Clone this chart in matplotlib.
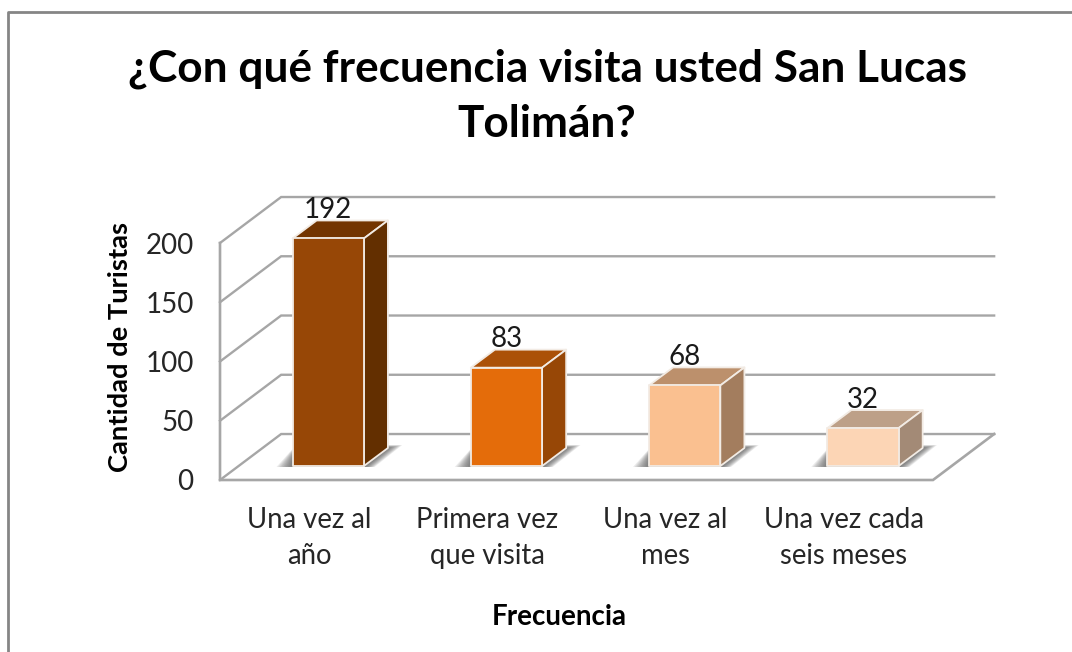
import numpy as np
import matplotlib.pyplot as plt
from matplotlib.lines import Line2D
from matplotlib.patches import Polygon

plt.rcParams['font.family'] = ['Lato', 'DejaVu Sans']

categories = ['Una vez al\naño', 'Primera vez\nque visita', 'Una vez al\nmes', 'Una vez cada\nseis meses']
values = [192, 83, 68, 32]
front_colors = ['#974706', '#e46c0a', '#fac090', '#fcd5b5']
top_colors = ['#733500', '#ab5108', '#bc906c', '#bda088']
side_colors = ['#632f00', '#974706', '#a37d5e', '#a38a76']
yticks = [0, 50, 100, 150, 200]

W, H = 1072, 652
grid_col = '#a6a6a6'

# depth of the box and of the bars, in data units
wall_dx, wall_dy = 0.343, 38.8
bar_w = 0.40
bar_dx, bar_dy = 0.135, 15.2
shift_x, shift_y = 0.107, 11.8

fig = plt.figure(figsize=(W / 100, H / 100), dpi=100)
ax = fig.add_axes([220 / W, 1 - 480 / H, 713 / W, 237 / H])
ax.set_xlim(-0.5, 3.5)
ax.set_ylim(0, 200)
for s in ax.spines.values():
    s.set_visible(False)
ax.patch.set_alpha(0)

# chart frame
fig.add_artist(Line2D([8 / W, 8 / W, 1], [0, 1 - 12 / H, 1 - 12 / H], color='#858585', lw=2))

# walls
x0, x1 = -0.5, 3.5
for v in yticks:
    ax.plot([x0, x0 + wall_dx, x1 + wall_dx], [v, v + wall_dy, v + wall_dy],
            color=grid_col, lw=1.7, clip_on=False, zorder=1, solid_joinstyle='miter')
ax.plot([x0, x0, x1, x1 + wall_dx], [200, 0, 0, wall_dy],
        color=grid_col, lw=1.9, clip_on=False, zorder=1, solid_joinstyle='miter')

for i, v in enumerate(values):
    left = i - bar_w / 2 + shift_x
    right = left + bar_w
    base = shift_y

    # soft shadow on the floor
    for grow in np.linspace(1, 0.2, 9):
        pts = [(left - 0.09 * grow, base - 0.8),
               (right + 0.06 * grow, base - 0.8),
               (right + bar_dx + 0.08 * grow, base + bar_dy + 2.5 * grow),
               (left + 0.02, base + bar_dy + 2.5 * grow)]
        ax.add_patch(Polygon(pts, closed=True, fc='#404040', ec='none', alpha=0.1,
                             clip_on=False, zorder=2))

    edge = dict(ec='#f2ebe4', lw=1.3, clip_on=False, zorder=3, joinstyle='round')
    ax.add_patch(Polygon([(left, base + v), (right, base + v),
                          (right + bar_dx, base + v + bar_dy), (left + bar_dx, base + v + bar_dy)],
                         closed=True, fc=top_colors[i], **edge))
    ax.add_patch(Polygon([(right, base), (right + bar_dx, base + bar_dy),
                          (right + bar_dx, base + v + bar_dy), (right, base + v)],
                         closed=True, fc=side_colors[i], **edge))
    ax.add_patch(Polygon([(left, base), (right, base), (right, base + v), (left, base + v)],
                         closed=True, fc=front_colors[i], **edge))
    ax.text(left + bar_w / 2, base + v + 24, str(v), ha='center', va='center',
            fontsize=20, color='#1a1a1a', zorder=4)

ax.set_xticks(range(len(categories)))
ax.set_xticklabels(categories, fontsize=19.8, color='#262626', linespacing=1.47)
ax.set_yticks(yticks)
ax.tick_params(axis='x', length=0, pad=19.5)
ax.tick_params(axis='y', length=0, pad=19, labelsize=20, labelcolor='#262626')

fig.text(547 / W, 1 - 96.5 / H, '¿Con qué frecuencia visita usted San Lucas\nTolimán?',
         ha='center', va='center', fontsize=31.8, fontweight='bold', color='black', linespacing=1.44)
fig.text(120 / W, 1 - 347 / H, 'Cantidad de Turistas', rotation=90, ha='center', va='center',
         fontsize=19.7, fontweight='bold', color='black')
fig.text(559 / W, 1 - 617 / H, 'Frecuencia', ha='center', va='center',
         fontsize=20, fontweight='bold', color='black')

plt.savefig('out.png', dpi=100)
